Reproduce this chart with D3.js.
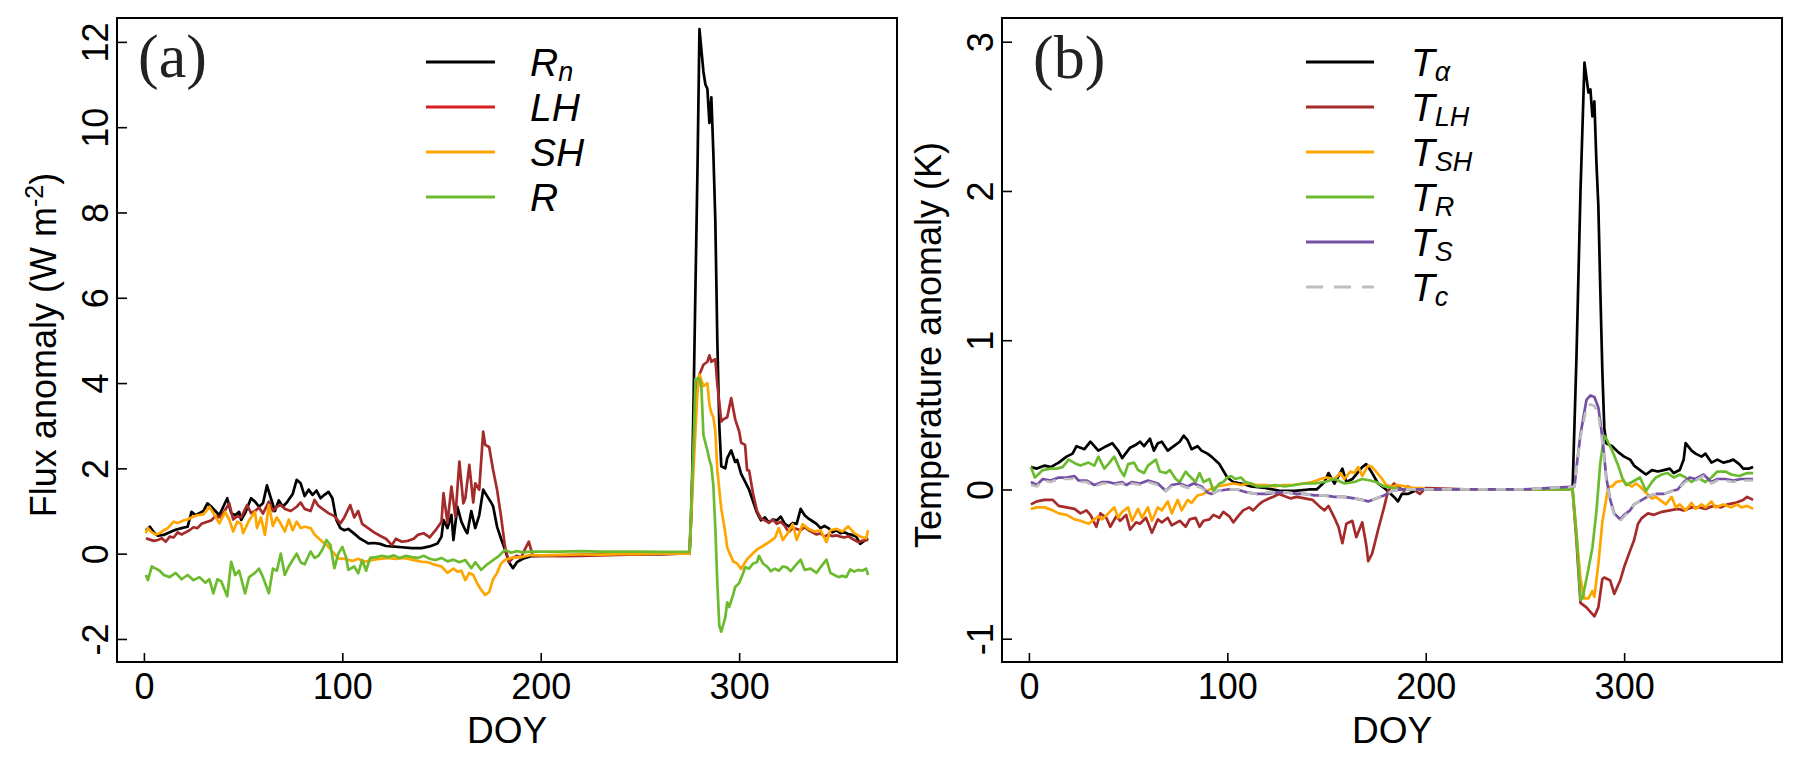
<!DOCTYPE html>
<html>
<head>
<meta charset="utf-8">
<script src="https://cdn.jsdelivr.net/npm/d3@7"></script>
<style>
  html, body { margin: 0; padding: 0; background: #fff; }
  svg { display: block; }
</style>
</head>
<body>
<svg id="chart" width="1801" height="763"></svg>
<script>
// ---------------- DATA ----------------
const xTicks = [0, 100, 200, 300];
const yTicksA = [-2, 0, 2, 4, 6, 8, 10, 12];
const yTicksB = [-1, 0, 1, 2, 3];

// Panel (a): flux anomaly, [DOY, W m-2]
const Rn = [[1,0.55],[3,0.63],[5,0.5],[7,0.42],[10,0.44],[13,0.5],[16,0.56],[19,0.6],[22,0.63],[24,0.98],[26,0.9],[28,0.95],[30,1.0],[32,1.18],[34,1.1],[36,1.0],[38,0.9],[40,1.1],[42,1.3],[44,0.95],[46,0.9],[48,0.98],[49,0.79],[51,0.95],[54,1.3],[56,1.22],[58,1.1],[60,1.18],[62,1.6],[64,1.3],[66,1.0],[68,1.25],[70,1.1],[72,1.2],[75,1.4],[77,1.73],[79,1.65],[81,1.35],[83,1.5],[85,1.38],[87,1.48],[89,1.3],[91,1.38],[93,1.45],[95,1.3],[97,0.79],[99,0.6],[101,0.55],[103,0.58],[106,0.47],[109,0.35],[111,0.3],[113,0.24],[116,0.25],[119,0.23],[122,0.18],[125,0.17],[130,0.15],[135,0.13],[140,0.13],[144,0.17],[148,0.24],[150,0.4],[151,0.79],[153,0.6],[155,0.91],[156,0.32],[158,1.1],[160,0.75],[162,0.55],[163,0.48],[165,1.0],[167,0.6],[169,0.9],[171,1.5],[173,1.35],[175,1.2],[176,1.11],[178,0.63],[180,0.35],[182,0.09],[184,-0.2],[186,-0.34],[188,-0.2],[191,-0.12],[195,-0.06],[200,-0.05],[210,-0.04],[220,-0.03],[230,-0.02],[240,-0.02],[250,-0.01],[260,-0.01],[270,0],[275,0],[276,1.0],[277,3.5],[278,6.3],[279,9.0],[280,12.3],[281,11.8],[282,11.3],[283,11.0],[284,10.9],[285,10.1],[286,10.7],[287,9.4],[288,7.8],[289,5.0],[290,3.0],[291,2.05],[293,2.0],[294,2.24],[296,2.42],[298,2.15],[299,2.2],[301,1.87],[303,1.69],[305,1.5],[307,1.23],[309,0.96],[311,0.78],[313,0.85],[315,0.73],[317,0.8],[319,0.78],[321,0.87],[323,0.7],[325,0.64],[327,0.72],[329,0.7],[331,1.05],[333,0.9],[335,0.82],[337,0.76],[339,0.7],[341,0.6],[343,0.65],[345,0.6],[347,0.5],[349,0.55],[351,0.48],[353,0.5],[355,0.46],[357,0.44],[359,0.4],[361,0.23],[363,0.3],[365,0.36]];
const LH = [[1,0.36],[3,0.33],[5,0.3],[7,0.32],[9,0.36],[11,0.28],[13,0.4],[15,0.38],[17,0.5],[19,0.45],[21,0.5],[23,0.55],[25,0.62],[27,0.6],[29,0.7],[32,0.75],[34,0.78],[36,0.88],[38,0.85],[40,0.95],[43,1.18],[45,0.8],[47,0.88],[49,0.85],[52,1.14],[54,0.95],[56,1.0],[58,1.08],[60,0.94],[63,1.22],[65,1.0],[67,1.1],[69,1.14],[71,1.05],[74,1.0],[77,1.1],[79,1.2],[81,1.05],[84,1.0],[86,1.26],[88,1.12],[90,1.05],[93,0.95],[96,0.88],[99,0.71],[101,0.85],[104,1.14],[106,0.85],[108,1.0],[110,0.7],[113,0.6],[116,0.5],[119,0.42],[122,0.35],[125,0.2],[127,0.35],[130,0.28],[133,0.3],[136,0.35],[138,0.44],[141,0.48],[144,0.38],[147,0.55],[150,0.75],[151,1.42],[153,0.72],[155,1.57],[157,0.87],[159,2.16],[161,1.18],[162,1.3],[164,2.08],[166,1.2],[167,1.65],[169,1.5],[171,2.86],[172,2.55],[174,2.5],[176,1.96],[178,1.5],[180,0.87],[182,0.16],[184,-0.2],[186,-0.1],[188,-0.05],[190,-0.1],[192,0.1],[194,0.28],[196,-0.05],[200,-0.05],[210,-0.06],[220,-0.05],[230,-0.04],[240,-0.03],[250,-0.02],[260,-0.01],[270,0],[275,0],[277,2.5],[279,4.0],[280,4.2],[282,4.43],[284,4.5],[285,4.65],[286,4.5],[288,4.56],[289,3.97],[291,3.1],[292,3.15],[294,3.2],[296,3.65],[298,3.15],[300,2.87],[301,2.6],[303,2.55],[304,1.96],[305,1.95],[307,1.41],[309,1.0],[311,0.82],[313,0.78],[315,0.72],[317,0.8],[319,0.7],[321,0.75],[323,0.65],[325,0.51],[327,0.6],[329,0.58],[331,0.55],[333,0.62],[335,0.55],[337,0.5],[339,0.45],[341,0.48],[343,0.4],[345,0.45],[347,0.41],[349,0.43],[351,0.4],[353,0.38],[355,0.41],[357,0.35],[360,0.27],[362,0.3],[365,0.32]];
const SH = [[1,0.48],[2,0.6],[4,0.5],[6,0.45],[8,0.48],[10,0.55],[12,0.6],[15,0.75],[17,0.72],[20,0.78],[22,0.8],[25,0.87],[27,0.9],[30,0.92],[33,1.1],[35,0.95],[38,0.71],[41,0.98],[43,0.8],[45,0.52],[47,0.75],[49,0.7],[50,0.48],[53,0.78],[56,0.98],[57,0.6],[59,0.85],[61,0.44],[63,1.14],[65,0.65],[67,0.85],[69,0.7],[71,0.52],[73,0.8],[75,0.55],[77,0.75],[79,0.6],[81,0.63],[84,0.6],[86,0.45],[88,0.36],[90,0.28],[93,0.16],[95,0.05],[98,-0.11],[101,-0.12],[105,-0.17],[108,-0.12],[111,-0.19],[115,-0.15],[119,-0.12],[123,-0.1],[127,-0.12],[131,-0.1],[135,-0.14],[138,-0.17],[140,-0.19],[143,-0.2],[146,-0.25],[150,-0.3],[153,-0.45],[156,-0.35],[158,-0.42],[160,-0.4],[162,-0.62],[164,-0.45],[166,-0.5],[168,-0.7],[170,-0.85],[172,-0.97],[174,-0.9],[176,-0.6],[178,-0.45],[180,-0.23],[182,-0.15],[185,-0.1],[190,-0.08],[195,-0.03],[200,-0.04],[210,-0.03],[220,-0.02],[230,-0.02],[240,-0.01],[250,-0.01],[260,0],[275,0],[277,2.0],[279,3.8],[280,4.2],[281,4.06],[282,3.93],[284,4.0],[285,3.5],[286,3.3],[287,3.2],[288,2.87],[289,1.96],[291,1.05],[293,0.5],[294,0.14],[297,-0.18],[299,-0.23],[301,-0.36],[303,-0.2],[304,-0.13],[307,0.01],[309,0.1],[312,0.18],[315,0.27],[318,0.37],[320,0.6],[322,0.32],[324,0.45],[327,0.69],[329,0.32],[332,0.69],[335,0.58],[338,0.52],[341,0.55],[344,0.27],[346,0.55],[349,0.58],[352,0.52],[355,0.64],[358,0.48],[361,0.4],[364,0.36],[365,0.55]];
const R = [[1,-0.5],[2,-0.62],[4,-0.3],[6,-0.35],[8,-0.4],[10,-0.5],[13,-0.55],[16,-0.45],[19,-0.6],[22,-0.5],[25,-0.62],[28,-0.55],[31,-0.68],[33,-0.6],[35,-0.93],[37,-0.6],[39,-0.65],[42,-1.0],[44,-0.19],[46,-0.5],[48,-0.4],[51,-0.93],[53,-0.55],[56,-0.45],[58,-0.35],[60,-0.55],[63,-0.93],[65,-0.35],[67,-0.4],[69,0.0],[71,-0.5],[73,-0.3],[75,-0.15],[77,0.0],[79,-0.2],[81,-0.25],[84,0.05],[86,-0.1],[88,-0.05],[90,0.1],[92,0.32],[94,0.2],[96,-0.34],[98,0.0],[100,0.16],[102,-0.1],[103,-0.38],[106,-0.3],[108,-0.46],[110,-0.15],[112,-0.4],[114,-0.1],[117,-0.08],[120,-0.05],[123,-0.08],[126,-0.04],[129,-0.1],[132,-0.05],[135,-0.08],[138,-0.1],[141,-0.05],[144,-0.12],[147,-0.15],[150,-0.1],[153,-0.18],[156,-0.14],[159,-0.2],[162,-0.15],[165,-0.34],[167,-0.2],[170,-0.38],[173,-0.25],[176,-0.15],[179,-0.05],[182,0.09],[185,0.02],[188,0.06],[191,0.03],[195,0.05],[200,0.05],[210,0.05],[220,0.06],[230,0.05],[240,0.05],[250,0.05],[260,0.04],[270,0.04],[275,0.05],[277,2.5],[278,4.1],[280,4.1],[281,3.88],[282,2.78],[284,2.42],[285,2.2],[286,2.05],[287,1.6],[288,0.59],[289,-0.69],[290,-1.69],[291,-1.83],[293,-1.5],[294,-1.14],[295,-1.25],[297,-0.96],[298,-0.78],[300,-0.69],[302,-0.46],[303,-0.32],[305,-0.35],[307,-0.23],[309,-0.2],[310,-0.05],[312,-0.23],[314,-0.3],[316,-0.41],[318,-0.35],[320,-0.4],[322,-0.3],[324,-0.32],[326,-0.41],[328,-0.3],[331,-0.14],[333,-0.38],[336,-0.35],[339,-0.45],[341,-0.32],[344,-0.14],[346,-0.45],[348,-0.5],[350,-0.55],[352,-0.52],[354,-0.55],[356,-0.37],[358,-0.42],[360,-0.38],[362,-0.4],[364,-0.35],[365,-0.5]];

// Panel (b): temperature anomaly, [DOY, K]
const Ta = [[1,0.15],[4,0.14],[8,0.16],[11,0.15],[15,0.18],[19,0.22],[22,0.24],[24,0.29],[28,0.27],[31,0.32],[35,0.26],[39,0.29],[42,0.31],[45,0.26],[47,0.21],[51,0.28],[54,0.3],[56,0.32],[58,0.29],[61,0.34],[63,0.26],[65,0.31],[67,0.32],[70,0.26],[72,0.28],[76,0.32],[78,0.36],[80,0.33],[82,0.27],[85,0.29],[87,0.26],[90,0.24],[92,0.22],[96,0.17],[100,0.08],[103,0.05],[107,0.04],[112,0.02],[119,0.01],[127,-0.01],[134,-0.01],[141,0.0],[145,0.0],[149,0.05],[151,0.11],[154,0.04],[158,0.14],[160,0.05],[163,0.07],[168,0.15],[170,0.17],[173,0.11],[176,0.04],[180,0.0],[184,-0.05],[186,-0.08],[188,-0.03],[191,-0.03],[196,0.0],[200,0.0],[220,0],[250,0],[274,0],[276,0.9],[278,2.0],[280,2.86],[282,2.66],[283,2.68],[284,2.5],[285,2.6],[286,2.2],[287,1.9],[288,1.33],[289,0.8],[290,0.41],[291,0.31],[294,0.29],[297,0.25],[300,0.22],[303,0.2],[305,0.16],[308,0.13],[311,0.1],[314,0.13],[317,0.12],[320,0.13],[323,0.14],[325,0.11],[328,0.13],[330,0.2],[331,0.31],[334,0.26],[336,0.24],[339,0.22],[341,0.24],[344,0.18],[347,0.2],[350,0.18],[353,0.19],[355,0.2],[358,0.17],[360,0.14],[363,0.14],[365,0.15]];
const TLH = [[1,-0.1],[4,-0.08],[8,-0.07],[12,-0.07],[15,-0.11],[19,-0.12],[23,-0.13],[26,-0.16],[29,-0.14],[31,-0.17],[34,-0.25],[36,-0.16],[39,-0.19],[41,-0.25],[44,-0.18],[46,-0.21],[49,-0.17],[51,-0.27],[54,-0.22],[56,-0.23],[59,-0.19],[62,-0.29],[65,-0.2],[67,-0.22],[70,-0.19],[72,-0.24],[76,-0.21],[79,-0.25],[81,-0.2],[84,-0.19],[86,-0.25],[88,-0.21],[91,-0.2],[93,-0.17],[96,-0.19],[98,-0.15],[101,-0.18],[103,-0.22],[106,-0.17],[108,-0.14],[111,-0.12],[113,-0.14],[116,-0.1],[118,-0.08],[121,-0.06],[123,-0.05],[126,-0.03],[128,-0.04],[132,-0.06],[135,-0.05],[139,-0.06],[143,-0.07],[147,-0.12],[149,-0.14],[151,-0.11],[154,-0.19],[156,-0.25],[158,-0.36],[160,-0.23],[163,-0.21],[165,-0.32],[168,-0.22],[170,-0.37],[171,-0.48],[173,-0.43],[176,-0.27],[179,-0.12],[181,-0.01],[184,0.04],[186,0.02],[189,-0.01],[191,0.02],[194,0.0],[197,-0.03],[200,0.01],[220,0],[250,0],[274,0],[276,-0.35],[278,-0.76],[281,-0.79],[283,-0.82],[285,-0.85],[287,-0.79],[289,-0.6],[290,-0.59],[293,-0.61],[295,-0.7],[298,-0.61],[300,-0.52],[303,-0.41],[305,-0.34],[307,-0.23],[309,-0.19],[312,-0.16],[315,-0.17],[319,-0.15],[323,-0.14],[327,-0.13],[330,-0.14],[334,-0.12],[338,-0.12],[341,-0.13],[345,-0.11],[349,-0.12],[352,-0.1],[356,-0.09],[360,-0.07],[362,-0.05],[365,-0.07]];
const TSH = [[1,-0.13],[4,-0.12],[8,-0.12],[12,-0.14],[15,-0.16],[19,-0.17],[23,-0.2],[26,-0.21],[30,-0.23],[32,-0.21],[35,-0.18],[37,-0.2],[40,-0.16],[43,-0.12],[45,-0.19],[47,-0.15],[50,-0.12],[52,-0.21],[55,-0.13],[57,-0.19],[60,-0.12],[62,-0.21],[65,-0.12],[67,-0.14],[70,-0.08],[72,-0.16],[75,-0.07],[77,-0.14],[80,-0.07],[82,-0.09],[85,-0.04],[88,-0.03],[91,0.0],[95,0.02],[99,0.03],[103,0.04],[107,0.03],[111,0.04],[115,0.03],[120,0.03],[124,0.02],[128,0.03],[133,0.03],[138,0.04],[143,0.05],[147,0.07],[150,0.08],[154,0.07],[157,0.11],[159,0.07],[162,0.12],[164,0.11],[166,0.15],[168,0.09],[171,0.16],[173,0.15],[175,0.12],[178,0.07],[180,0.03],[183,0.02],[186,0.03],[190,0.02],[194,0.01],[198,0.01],[200,0.0],[220,0],[250,0],[274,0],[276,-0.3],[278,-0.6],[280,-0.73],[282,-0.73],[284,-0.68],[285,-0.72],[287,-0.5],[289,-0.22],[292,0.02],[294,0.02],[296,0.05],[299,0.06],[301,0.04],[304,0.02],[306,0.04],[308,0.02],[311,-0.02],[314,-0.06],[316,-0.05],[319,-0.08],[321,-0.1],[324,-0.05],[326,-0.12],[328,-0.1],[331,-0.14],[334,-0.09],[336,-0.13],[339,-0.1],[341,-0.12],[344,-0.08],[346,-0.12],[350,-0.1],[354,-0.12],[357,-0.1],[359,-0.12],[362,-0.11],[365,-0.13]];
const TR = [[1,0.15],[3,0.08],[7,0.13],[11,0.14],[14,0.14],[17,0.15],[20,0.2],[24,0.17],[26,0.16],[30,0.18],[33,0.16],[35,0.22],[38,0.14],[40,0.17],[43,0.22],[46,0.13],[48,0.09],[50,0.17],[53,0.18],[55,0.13],[58,0.11],[60,0.16],[64,0.2],[66,0.12],[69,0.11],[71,0.13],[74,0.07],[76,0.05],[79,0.12],[81,0.09],[84,0.05],[86,0.11],[88,0.05],[91,0.07],[93,-0.01],[96,0.04],[98,0.05],[100,0.08],[102,0.09],[104,0.07],[107,0.08],[109,0.05],[112,0.04],[115,0.02],[120,0.02],[124,0.03],[129,0.02],[134,0.03],[139,0.04],[144,0.04],[149,0.05],[154,0.07],[159,0.04],[164,0.05],[168,0.07],[172,0.06],[175,0.05],[179,0.02],[184,0.01],[188,0.0],[195,0.0],[220,0],[250,0],[274,0],[276,-0.3],[278,-0.74],[279,-0.73],[281,-0.6],[284,-0.39],[286,-0.15],[288,0.18],[290,0.36],[291,0.34],[294,0.26],[297,0.16],[299,0.08],[301,0.03],[304,0.05],[308,0.08],[311,-0.01],[314,0.05],[316,0.08],[319,0.1],[322,0.11],[325,0.08],[328,0.1],[331,0.08],[334,0.05],[337,0.08],[341,0.05],[344,0.08],[347,0.12],[351,0.12],[354,0.1],[358,0.09],[362,0.11],[365,0.11]];
const TS = [[1,0.05],[4,0.03],[7,0.07],[11,0.06],[15,0.08],[19,0.08],[23,0.09],[25,0.06],[29,0.06],[33,0.03],[37,0.05],[40,0.05],[43,0.04],[47,0.05],[49,0.03],[52,0.05],[56,0.04],[60,0.06],[65,0.04],[69,-0.01],[72,0.03],[76,0.04],[80,0.02],[83,0.04],[87,0.02],[90,-0.02],[92,-0.03],[95,-0.01],[100,0.0],[105,0.0],[110,-0.02],[115,-0.03],[120,-0.03],[125,-0.02],[130,-0.02],[135,-0.03],[139,-0.03],[144,-0.04],[149,-0.04],[154,-0.05],[159,-0.05],[164,-0.06],[168,-0.07],[171,-0.08],[175,-0.06],[179,-0.04],[183,-0.01],[187,0.0],[200,0],[250,0],[275,0.02],[276,0.15],[278,0.37],[281,0.6],[283,0.63],[285,0.62],[287,0.55],[289,0.35],[291,0.08],[293,-0.07],[295,-0.16],[298,-0.2],[300,-0.17],[303,-0.14],[305,-0.1],[309,-0.07],[313,-0.04],[316,-0.03],[320,-0.03],[324,-0.01],[327,0.0],[330,0.05],[333,0.08],[336,0.07],[340,0.1],[344,0.05],[347,0.07],[351,0.07],[355,0.06],[359,0.07],[362,0.07],[365,0.07]];
const Tc = [[1,0.03],[4,0.02],[7,0.06],[11,0.05],[15,0.07],[19,0.07],[23,0.07],[25,0.05],[29,0.05],[33,0.02],[37,0.04],[40,0.04],[43,0.03],[47,0.04],[49,0.02],[52,0.04],[56,0.03],[60,0.05],[65,0.03],[69,-0.01],[72,0.02],[76,0.03],[80,0.01],[83,0.03],[87,0.01],[90,-0.02],[92,-0.03],[95,-0.01],[100,0.0],[105,0.0],[110,-0.02],[115,-0.03],[120,-0.02],[125,-0.02],[130,-0.02],[135,-0.03],[139,-0.03],[144,-0.04],[149,-0.04],[154,-0.05],[159,-0.05],[164,-0.06],[168,-0.07],[171,-0.08],[175,-0.06],[179,-0.04],[183,-0.01],[187,0.0],[200,0],[250,0],[275,0.02],[276,0.14],[278,0.35],[281,0.55],[283,0.57],[285,0.56],[287,0.5],[289,0.32],[291,0.06],[293,-0.08],[295,-0.17],[298,-0.21],[300,-0.18],[303,-0.14],[305,-0.1],[309,-0.07],[313,-0.04],[316,-0.03],[320,-0.03],[324,-0.01],[327,0.0],[330,0.04],[333,0.07],[336,0.06],[340,0.09],[344,0.04],[347,0.06],[351,0.06],[355,0.05],[359,0.06],[362,0.06],[365,0.06]];

// ---------------- DRAWING ----------------
const SANS = "'Liberation Sans', Arial, sans-serif";
const SERIF = "'Liberation Serif', 'Times New Roman', serif";
const svg = d3.select("#chart");

const panels = [
  {
    left: 117, right: 897, top: 18, bottom: 662,
    ydom: [-2.54, 12.56], yticks: yTicksA,
    tag: "(a)", tagX: 138, tagY: 77,
    titleX: 56,
    title: [["Flux anomaly (W m", 0, 36], ["-2", -13, 25], [")", 13, 36]],
    series: [
      {data: Rn, color: "#000000", legColor: "#000000", main: "R", sub: "n"},
      {data: LH, color: "#a52a2a", legColor: "#d81e1e", main: "LH", sub: ""},
      {data: SH, color: "#ffa500", legColor: "#ffa500", main: "SH", sub: ""},
      {data: R,  color: "#6cbb2f", legColor: "#6cbb2f", main: "R", sub: ""}
    ],
    legX1: 426, legX2: 495, legTextX: 530, legY0: 62, legDY: 45
  },
  {
    left: 1002, right: 1782, top: 18, bottom: 662,
    ydom: [-1.156, 3.159], yticks: yTicksB,
    tag: "(b)", tagX: 1033, tagY: 78,
    titleX: 941,
    title: [["Temperature anomaly (K)", 0, 36]],
    series: [
      {data: Ta,  color: "#000000", legColor: "#000000", main: "T", sub: "α"},
      {data: TLH, color: "#a52a2a", legColor: "#a52a2a", main: "T", sub: "LH"},
      {data: TSH, color: "#ffa500", legColor: "#ffa500", main: "T", sub: "SH"},
      {data: TR,  color: "#6cbb2f", legColor: "#6cbb2f", main: "T", sub: "R"},
      {data: TS,  color: "#7551a5", legColor: "#7551a5", main: "T", sub: "S"},
      {data: Tc,  color: "#bebebe", legColor: "#bebebe", main: "T", sub: "c", dash: "10,8", legDash: "17,11"}
    ],
    legX1: 1306, legX2: 1374, legTextX: 1411, legY0: 62, legDY: 45
  }
];

panels.forEach(p => {
  const x = d3.scaleLinear().domain([-13.56, 379.56]).range([p.left, p.right]);
  const y = d3.scaleLinear().domain(p.ydom).range([p.bottom, p.top]);
  const g = svg.append("g");

  // series lines
  const clipId = "clip" + p.left;
  svg.append("clipPath").attr("id", clipId).append("rect")
    .attr("x", p.left).attr("y", p.top).attr("width", p.right - p.left).attr("height", p.bottom - p.top);
  const line = d3.line().x(d => x(d[0])).y(d => y(d[1]));
  const lg = g.append("g").attr("clip-path", `url(#${clipId})`);
  p.series.forEach(s => {
    lg.append("path")
      .attr("d", line(s.data))
      .attr("fill", "none")
      .attr("stroke", s.color)
      .attr("stroke-width", 2.7)
      .attr("stroke-linejoin", "round")
      .attr("stroke-linecap", "butt")
      .attr("stroke-dasharray", s.dash || null);
  });

  // y axis (inward ticks, rotated labels, ASCII hyphen for negatives)
  const ya = g.append("g").attr("transform", `translate(${p.left},0)`)
    .call(d3.axisLeft(y).tickValues(p.yticks).tickSize(-10).tickSizeOuter(0).tickFormat(d => String(d)));
  ya.select(".domain").remove();
  ya.selectAll(".tick line").attr("stroke", "#000").attr("stroke-width", 1.6);
  ya.selectAll(".tick text")
    .attr("x", null).attr("dy", null)
    .attr("transform", "translate(-9,0) rotate(-90)")
    .attr("text-anchor", "middle")
    .style("font-family", SANS).style("font-size", "36px").attr("fill", "#000");

  // x axis
  const xa = g.append("g").attr("transform", `translate(0,${p.bottom})`)
    .call(d3.axisBottom(x).tickValues(xTicks).tickSize(-9).tickSizeOuter(0).tickFormat(d => String(d)));
  xa.select(".domain").remove();
  xa.selectAll(".tick line").attr("stroke", "#000").attr("stroke-width", 1.6);
  xa.selectAll(".tick text")
    .attr("y", 37).attr("dy", null)
    .style("font-family", SANS).style("font-size", "36px").attr("fill", "#000");

  // box
  g.append("rect")
    .attr("x", p.left).attr("y", p.top)
    .attr("width", p.right - p.left).attr("height", p.bottom - p.top)
    .attr("fill", "none").attr("stroke", "#000").attr("stroke-width", 2);

  // x title
  g.append("text")
    .attr("x", (p.left + p.right) / 2).attr("y", 743)
    .attr("text-anchor", "middle")
    .style("font-family", SANS).style("font-size", "37px")
    .text("DOY");

  // y title
  const yt = g.append("text")
    .attr("transform", `translate(${p.titleX},345) rotate(-90)`)
    .attr("text-anchor", "middle")
    .style("font-family", SANS).style("font-size", "37px");
  p.title.forEach(t => {
    yt.append("tspan").attr("dy", t[1]).style("font-size", t[2] + "px").text(t[0]);
  });

  // panel tag
  g.append("text")
    .attr("x", p.tagX).attr("y", p.tagY)
    .style("font-family", SERIF).style("font-size", "62px")
    .attr("fill", "#222")
    .text(p.tag);

  // legend
  p.series.forEach((s, i) => {
    const ly = p.legY0 + i * p.legDY;
    g.append("line")
      .attr("x1", p.legX1).attr("x2", p.legX2)
      .attr("y1", ly).attr("y2", ly)
      .attr("stroke", s.legColor).attr("stroke-width", 3.2)
      .attr("stroke-dasharray", s.legDash || null);
    const t = g.append("text")
      .attr("x", p.legTextX).attr("y", ly + 14)
      .style("font-family", SANS).style("font-style", "italic").style("font-size", "39px");
    t.append("tspan").text(s.main);
    if (s.sub) {
      t.append("tspan").attr("dy", 5).style("font-size", "27px").text(s.sub);
    }
  });
});
</script>
</body>
</html>
